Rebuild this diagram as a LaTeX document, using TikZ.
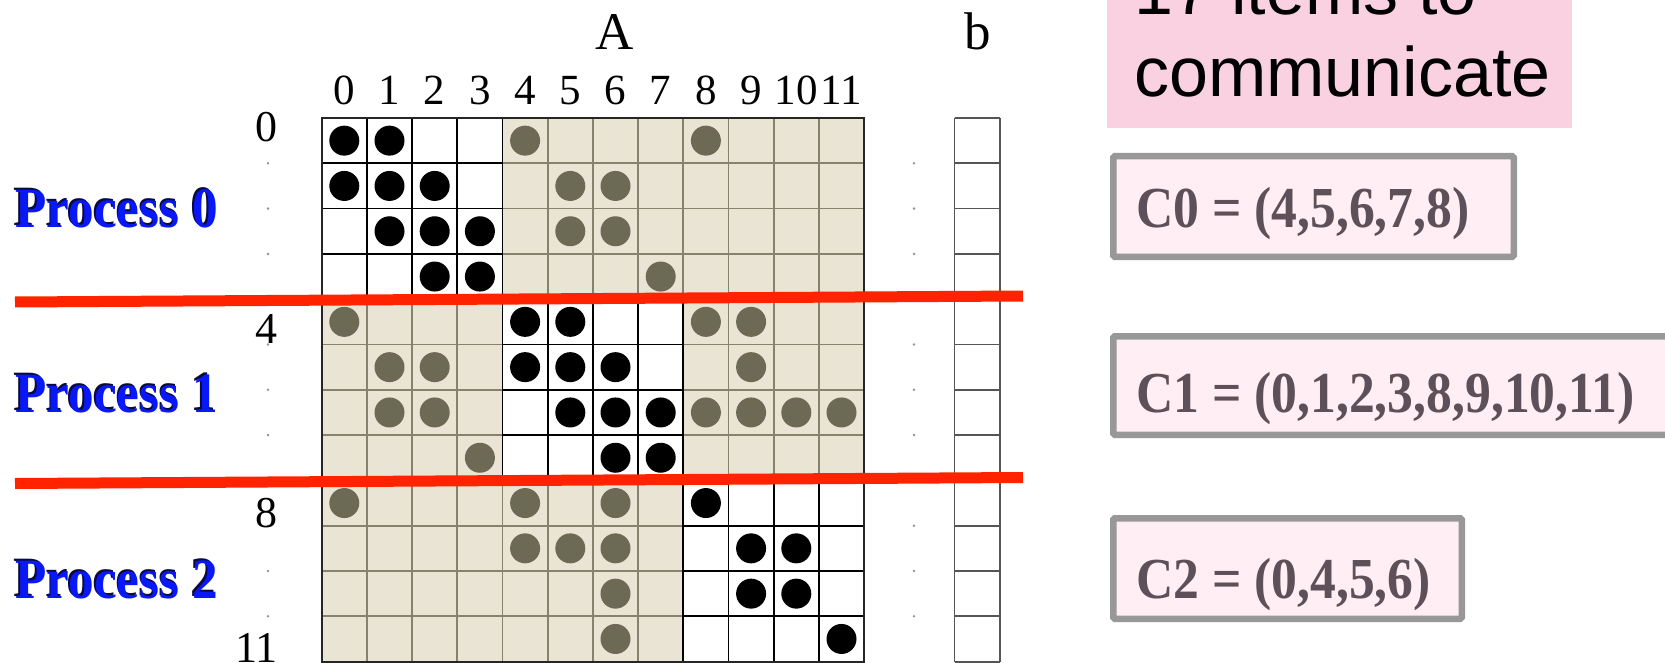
\documentclass[tikz,border=0pt]{standalone}
\usepackage{fontspec}
\setmainfont{Liberation Serif}
\setsansfont{Liberation Sans}
\usepackage{graphicx}
\definecolor{beige}{RGB}{234,228,213}
\definecolor{offdiag}{RGB}{108,106,85}
\definecolor{gridolive}{RGB}{135,130,110}
\definecolor{bline}{RGB}{85,85,85}
\definecolor{procblue}{RGB}{8,24,248}
\definecolor{procshadow}{RGB}{10,10,60}
\definecolor{cboxfill}{RGB}{255,238,243}
\definecolor{cboxdraw}{RGB}{152,152,152}
\definecolor{ctextcol}{RGB}{94,80,88}
\definecolor{bigpink}{RGB}{249,209,225}
\definecolor{redline}{RGB}{255,35,0}
\definecolor{tickgray}{RGB}{150,150,150}
\newcommand{\proctext}[1]{\scalebox{0.9}[1]{\makebox[0pt][l]{\kern-1.6pt\raisebox{1.2pt}{\color{procshadow}#1}}#1}}
\newcommand{\ctxt}[1]{\scalebox{0.89}[1]{#1}}
\begin{document}
\begin{tikzpicture}[x=1pt,y=-1pt,
  collabel/.style={font=\fontsize{43}{48}\selectfont, anchor=base, inner sep=0pt},
  rowlabel/.style={font=\fontsize{44}{48}\selectfont, anchor=base east, inner sep=0pt},
  headlabel/.style={font=\fontsize{53}{60}\selectfont, anchor=base, inner sep=0pt},
  proclabel/.style={font=\bfseries\fontsize{57}{62}\selectfont, text=procblue, anchor=base west, inner sep=0pt},
  cboxstyle/.style={draw=cboxdraw, fill=cboxfill, line width=6.5pt, rounded corners=1.5pt},
  clabel/.style={font=\bfseries\fontsize{58}{62}\selectfont, text=ctextcol, anchor=base west, inner sep=0pt},
  notelabel/.style={font=\sffamily\fontsize{70}{82}\selectfont, anchor=base west, inner sep=0pt},
  blackdot/.style={fill=black},
  greydot/.style={fill=offdiag},
  partline/.style={draw=redline, line width=11pt}
]
\useasboundingbox (0,0) rectangle (1665,663);
\clip (0,0) rectangle (1665,663);
\fill[white] (0,0) rectangle (1665,663);

\def\L{321.7}
\def\T{118}
\def\cw{45.2}
\def\rh{45.3}

% pink note box
\fill[bigpink] (1107,-20) rectangle (1572,128);
\node[notelabel] (note1) at (1134,15) {17 items to};
\node[notelabel] (note2) at (1134,97) {communicate};

% matrix cells
\fill[beige] (\L,\T) rectangle (\L+12*\cw,\T+12*\rh);
\foreach \b in {0,1,2}{
  \fill[white] (\L+4*\b*\cw,\T+4*\b*\rh) rectangle ++(4*\cw,4*\rh);
}
\foreach \k in {0,...,12}{
  \draw[gridolive, line width=1.8pt] (\L+\k*\cw,\T) -- (\L+\k*\cw,\T+12*\rh);
  \draw[gridolive, line width=1.8pt] (\L,\T+\k*\rh) -- (\L+12*\cw,\T+\k*\rh);
}
\foreach \b in {0,1,2}{
  \foreach \k in {0,...,4}{
    \draw[black, line width=1.8pt] (\L+4*\b*\cw+\k*\cw,\T+4*\b*\rh) -- ++(0,4*\rh);
    \draw[black, line width=1.8pt] (\L+4*\b*\cw,\T+4*\b*\rh+\k*\rh) -- ++(4*\cw,0);
  }
}
\draw[black!85, line width=2pt] (\L,\T) rectangle (\L+12*\cw,\T+12*\rh);

% nonzeros
\foreach \c/\r in {0/0,1/0,0/1,1/1,2/1,1/2,2/2,3/2,2/3,3/3,
                   4/4,5/4,4/5,5/5,6/5,5/6,6/6,7/6,6/7,7/7,
                   8/8,9/9,10/9,9/10,10/10,11/11}{
  \fill[blackdot] (\L+\c*\cw+0.5*\cw,\T+\r*\rh+0.5*\rh) circle[radius=15];
}
\foreach \c/\r in {4/0,8/0,5/1,6/1,5/2,6/2,7/3,
                   0/4,8/4,9/4,1/5,2/5,9/5,1/6,2/6,8/6,9/6,10/6,11/6,3/7,
                   0/8,4/8,6/8,4/9,5/9,6/9,6/10,6/11}{
  \fill[greydot] (\L+\c*\cw+0.5*\cw,\T+\r*\rh+0.5*\rh) circle[radius=15];
}

% vector b
\foreach \k in {0,...,12}{
  \draw[bline, line width=1.8pt] (954.5,\T+\k*\rh) -- (999.8,\T+\k*\rh);
}
\draw[bline, line width=1.8pt] (954.5,\T) -- (954.5,\T+12*\rh);
\draw[bline, line width=1.8pt] (999.8,\T) -- (999.8,\T+12*\rh);

% small row dots
\foreach \k in {1,2,3,5,6,7,9,10,11}{
  \fill[tickgray] (268,\T+\k*\rh) circle[radius=1.4];
  \fill[tickgray] (914,\T+\k*\rh) circle[radius=1.4];
}

% headings
\node[headlabel] (lblA) at (615,50) {A};
\node[headlabel] (lblb) at (978,50) {b};
\foreach \c in {0,...,11}{
  \node[collabel] (col\c) at (\L+\c*\cw+0.5*\cw,105) {\c};
}
\node[rowlabel] (row0) at (278,142) {0};
\node[rowlabel] (row4) at (278,343) {4};
\node[rowlabel] (row8) at (278,527) {8};
\node[rowlabel] (row11) at (278,662) {11};

% partition lines
\coordinate (p1a) at (15,302);
\coordinate (p1b) at (1023,296);
\coordinate (p2a) at (15,483.5);
\coordinate (p2b) at (1023,477.5);
\draw[partline] (p1a) -- (p1b);
\draw[partline] (p2a) -- (p2b);

% process labels
\node[proclabel] (proc0) at (15,227) {\proctext{Process 0}};
\node[proclabel] (proc1) at (15,412) {\proctext{Process 1}};
\node[proclabel] (proc2) at (15,598) {\proctext{Process 2}};

% communication boxes
\draw[cboxstyle] (1113.25,156.25) rectangle (1513.75,256.75);
\draw[cboxstyle] (1113.25,336.25) rectangle (1690,434.75);
\draw[cboxstyle] (1113.25,518.25) rectangle (1461.75,618.75);
\node[clabel] (c0) at (1136,227) {\ctxt{C0 = (4,5,6,7,8)}};
\node[clabel] (c1) at (1136,412) {\ctxt{C1 = (0,1,2,3,8,9,10,11)}};
\node[clabel] (c2) at (1136,598) {\ctxt{C2 = (0,4,5,6)}};
\end{tikzpicture}
\end{document}
